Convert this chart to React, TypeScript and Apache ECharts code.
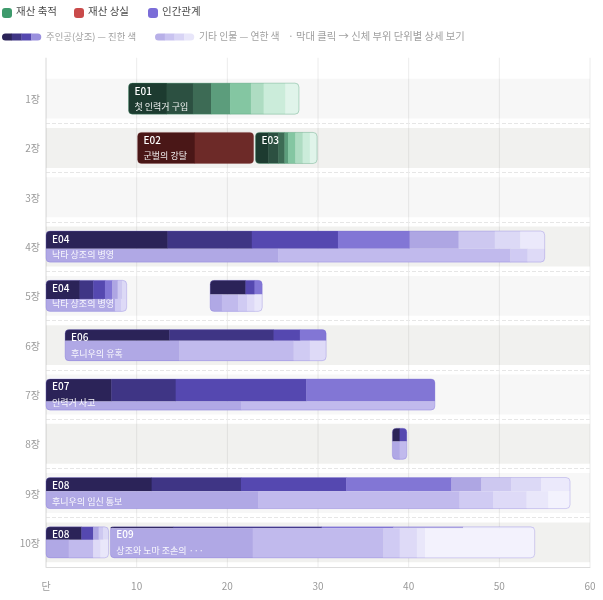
import React, { useEffect, useRef } from 'react';
import * as echarts from 'echarts';

const FONT = "'Noto Sans CJK KR', 'Noto Sans', sans-serif";

const chapters = ['1장', '2장', '3장', '4장', '5장', '6장', '7장', '8장', '9장', '10장'];
const xTicks = [0, 10, 20, 30, 40, 50, 60];
const typeNames = ['재산 축적', '재산 상실', '인간관계'];
const typeColors = ['#3e9a6c', '#c94a4a', '#7b6dd8'];

const greenShades = ['#1d3b30', '#2c5041', '#3d6b55', '#5c9d7c', '#84c6a2', '#aedcc2', '#cbecda', '#e0f4ea'];
const redShades = ['#4a1717', '#6d2a28'];
const purpleShades = ['#2b2358', '#3f3585', '#5548b0', '#8276d5', '#aea6e3', '#cdc8f0', '#dcd9f6', '#ebe9fb'];
const purpleLight = ['#b0a8e5', '#c1baed', '#d0cbf3', '#dedaf7', '#e9e7fa', '#f3f2fd'];

const barIds = ['E01', 'E02', 'E03', 'E04', 'E04', 'E05', 'E06', 'E07', 'E07', 'E08', 'E08', 'E09'];
const barNames = ['첫 인력거 구입', '군벌의 강탈', '', '낙타 상조의 병영', '낙타 상조의 병영', '', '후니우의 유혹', '인력거 사고', '', '후니우의 임신 통보', '', '상조와 노마 조손의 ···'];
const barChapter = [0, 1, 1, 3, 4, 4, 5, 6, 7, 8, 9, 9];
const barType = [0, 1, 0, 2, 2, 2, 2, 2, 2, 2, 2, 2];
const barStart = [9.1, 10.1, 23.1, 0, 0, 18.1, 2.1, 0, 38.2, 0, 0, 7.1];
const mainEnds = [
  [13.3, 16.2, 18.2, 20.3, 22.6, 24.0, 26.4, 27.9],
  [16.4, 22.9],
  [24.5, 25.6, 26.3, 26.7, 27.5, 28.3, 29.1, 29.9],
  [13.4, 22.7, 32.2, 40.1, 45.5, 49.5, 52.3, 55.0],
  [3.7, 5.2, 6.5, 7.3, 7.9, 8.4, 8.9],
  [22.0, 23.0, 23.85],
  [13.6, 25.1, 28.0, 30.9],
  [7.2, 14.3, 28.7, 42.9],
  [39.0, 39.8],
  [11.65, 21.5, 33.1, 44.7, 48.0, 51.3, 54.6, 57.8],
  [3.9, 5.2, 5.8, 6.3, 6.9],
  [14.0, 30.4, 38.3, 46.0, 53.9],
];
const mainShade = [
  [0, 1, 2, 3, 4, 5, 6, 7],
  [0, 1],
  [0, 1, 2, 3, 4, 5, 6, 7],
  [0, 1, 2, 3, 4, 5, 6, 7],
  [0, 1, 2, 3, 4, 5, 6],
  [0, 2, 3],
  [0, 1, 2, 3],
  [0, 1, 2, 3],
  [0, 2],
  [0, 1, 2, 3, 4, 5, 6, 7],
  [0, 2, 4, 5, 6],
  [0, 1, 3, 4, 7],
];
const otherEnds = [
  [], [], [],
  [25.6, 51.2, 53.1, 55.0],
  [7.6, 8.3, 8.9],
  [19.4, 21.2, 22.2, 23.0, 23.85],
  [14.7, 27.3, 29.1, 30.9],
  [21.5, 42.9],
  [39.0, 39.8],
  [23.4, 45.6, 49.3, 53.0, 55.4, 57.8],
  [2.5, 5.2, 6.0, 6.9],
  [22.8, 37.2, 39.0, 40.9, 41.8, 53.9],
];
const otherShade = [
  [], [], [],
  [0, 1, 2, 3],
  [0, 2, 3],
  [0, 1, 2, 3, 4],
  [0, 1, 2, 3],
  [0, 1],
  [0, 1],
  [0, 1, 2, 3, 4, 5],
  [0, 1, 3, 4],
  [0, 1, 2, 3, 4, 5],
];
const mainShare = [1, 1, 1, 0.57, 0.6, 0.46, 0.36, 0.73, 0.43, 0.44, 0.42, 0.05];

const mainPalettes = [greenShades, redShades, purpleShades];
const outlineColors = ['rgba(70,150,110,0.35)', 'rgba(110,40,40,0.25)', 'rgba(123,109,216,0.3)'];

const App: React.FC = () => {
  const ref = useRef<HTMLDivElement>(null);
  useEffect(() => {
    if (!ref.current) return;
    const chart = echarts.init(ref.current, undefined, { renderer: 'svg' });

    const renderGrid = (params: any, api: any) => {
      const v = api.value(0);
      const bw = api.size([0, 1])[1];
      const p0 = api.coord([v, 0]);
      const p1 = api.coord([v, chapters.length - 1]);
      return {
        type: 'line',
        shape: { x1: p0[0], y1: p0[1] - bw * 0.83, x2: p0[0], y2: p1[1] + bw / 2 },
        style: { stroke: v === 0 ? '#d8d8d8' : '#ececec', lineWidth: 1 },
        silent: true,
      };
    };

    const renderBand = (params: any, api: any) => {
      const k = api.value(0);
      const bw = api.size([0, 1])[1];
      const a = api.coord([xTicks[0], k]);
      const b = api.coord([xTicks[xTicks.length - 1], k]);
      const h = bw * 0.81;
      return {
        type: 'rect',
        shape: { x: a[0], y: a[1] - h / 2, width: b[0] - a[0], height: h },
        style: { fill: k % 2 === 0 ? 'rgba(0,0,0,0.03)' : 'rgba(60,60,30,0.07)' },
        silent: true,
      };
    };

    const renderBar = (params: any, api: any) => {
      const cat = api.value(0);
      const s = api.value(1);
      const e = api.value(2);
      const i = api.value(3);
      const bw = api.size([0, 1])[1];
      const H = bw * 0.63;
      const c0 = api.coord([s, cat]);
      const x0 = c0[0];
      const x1 = api.coord([e, cat])[0];
      const top = c0[1] - H / 2;
      const R = 4;
      const t = barType[i];
      const children: any[] = [];
      const addRow = (ends: number[], shades: number[], colors: string[], y: number, h: number, isTop: boolean, isBottom: boolean) => {
        let prev = s;
        ends.forEach((end, j) => {
          const a = api.coord([prev, cat])[0];
          const b = api.coord([end, cat])[0];
          const first = j === 0;
          const last = j === ends.length - 1;
          const r = [first && isTop ? R : 0, last && isTop ? R : 0, last && isBottom ? R : 0, first && isBottom ? R : 0];
          children.push({
            type: 'rect',
            shape: { x: a, y, width: b - a + (last ? 0 : 0.4), height: h, r },
            style: { fill: colors[shades[j]] },
          });
          prev = end;
        });
      };
      const share = mainShare[i];
      if (share >= 1 || otherEnds[i].length === 0) {
        addRow(mainEnds[i], mainShade[i], mainPalettes[t], top, H, true, true);
      } else {
        const hTop = H * share;
        addRow(mainEnds[i], mainShade[i], mainPalettes[t], top, hTop, true, false);
        addRow(otherEnds[i], otherShade[i], purpleLight, top + hTop, H - hTop + 0.2, false, true);
      }
      children.push({
        type: 'rect',
        shape: { x: x0, y: top, width: x1 - x0, height: H, r: R },
        style: { fill: 'none', stroke: outlineColors[t], lineWidth: 1 },
      });
      const w = x1 - x0;
      if (w >= 56) {
        children.push({
          type: 'text',
          style: {
            text: barIds[i], x: x0 + 6, y: top + 7, fill: '#ffffff', fontSize: 10, fontWeight: 500,
            fontFamily: FONT, verticalAlign: 'middle', align: 'left',
          },
        });
      }
      if (w >= 75 && barNames[i]) {
        children.push({
          type: 'text',
          style: {
            text: barNames[i], x: x0 + 6, y: top + 23.5, fill: 'rgba(255,255,255,0.92)', fontSize: 9,
            fontFamily: FONT, verticalAlign: 'middle', align: 'left',
          },
        });
      }
      return { type: 'group', children };
    };

    const legendRow1: any[] = [];
    const markerX = [2, 74, 148];
    typeNames.forEach((n, k) => {
      legendRow1.push({ type: 'rect', left: markerX[k], top: 8, shape: { width: 10, height: 10, r: 3 }, style: { fill: typeColors[k] } });
      legendRow1.push({ type: 'text', left: markerX[k] + 14, top: 5.5, style: { text: n, fill: '#4a4a4a', fontSize: 10.5, fontFamily: FONT } });
    });
    const strip = (x: number, colors: string[]) => colors.map((c, k) => ({
      type: 'rect',
      left: x + k * 9.75,
      top: 33.5,
      shape: { width: 10, height: 7, r: k === 0 ? [3.5, 0, 0, 3.5] : k === colors.length - 1 ? [0, 3.5, 3.5, 0] : 0 },
      style: { fill: c },
    }));
    const graphic = [
      ...legendRow1,
      ...strip(2, [purpleShades[0], purpleShades[1], purpleShades[2], '#9a90de']),
      { type: 'text', left: 46, top: 31, style: { text: '주인공(상조) — 진한 색', fill: '#a0a0a0', fontSize: 9.4, fontFamily: FONT } },
      ...strip(155, ['#b8b0e8', '#c9c3f0', '#d8d4f5', '#e8e6fa']),
      { type: 'text', left: 199, top: 31, style: { text: '기타 인물 — 연한 색', fill: '#a0a0a0', fontSize: 9.8, fontFamily: FONT } },
      { type: 'text', left: 288, top: 30.5, style: { text: '· 막대 클릭 → 신체 부위 단위별 상세 보기', fill: '#a0a0a0', fontSize: 10.3, fontFamily: FONT } },
    ];

    chart.setOption({
      animation: false,
      textStyle: { fontFamily: FONT },
      grid: { left: 46, right: 13, top: 74, bottom: 33, containLabel: false },
      graphic,
      xAxis: {
        type: 'value', min: 0, max: 60, interval: 10,
        axisLine: { show: true, lineStyle: { color: '#dcdcdc' } },
        axisTick: { show: false },
        splitLine: { show: false },
        axisLabel: { color: '#9a9a9a', fontSize: 10, margin: 13, formatter: (v: number) => (v === 0 ? '단' : String(v)) },
      },
      yAxis: {
        type: 'category', data: chapters, inverse: true,
        axisLine: { show: false }, axisTick: { show: false },
        axisLabel: { color: '#9a9a9a', fontSize: 10, margin: 6 },
        splitLine: { show: true, showMinLine: false, showMaxLine: false, lineStyle: { type: 'dashed', color: '#e6e6e6' } },
      },
      series: [
        { type: 'custom', renderItem: renderGrid, data: xTicks.map((v) => [v]), encode: { x: 0 }, silent: true, clip: false, z: 1 },
        { type: 'custom', renderItem: renderBand, data: chapters.map((_, k) => [k]), encode: { y: 0 }, silent: true, z: 1 },
        {
          type: 'custom', renderItem: renderBar, z: 3,
          data: barChapter.map((c, i) => [c, barStart[i], mainEnds[i][mainEnds[i].length - 1], i]),
          encode: { y: 0, x: [1, 2] },
        },
      ],
    });
    return () => chart.dispose();
  }, []);
  return <div ref={ref} style={{ position: 'fixed', left: 0, top: 0, width: 603, height: 600 }} />;
};

export default App;
